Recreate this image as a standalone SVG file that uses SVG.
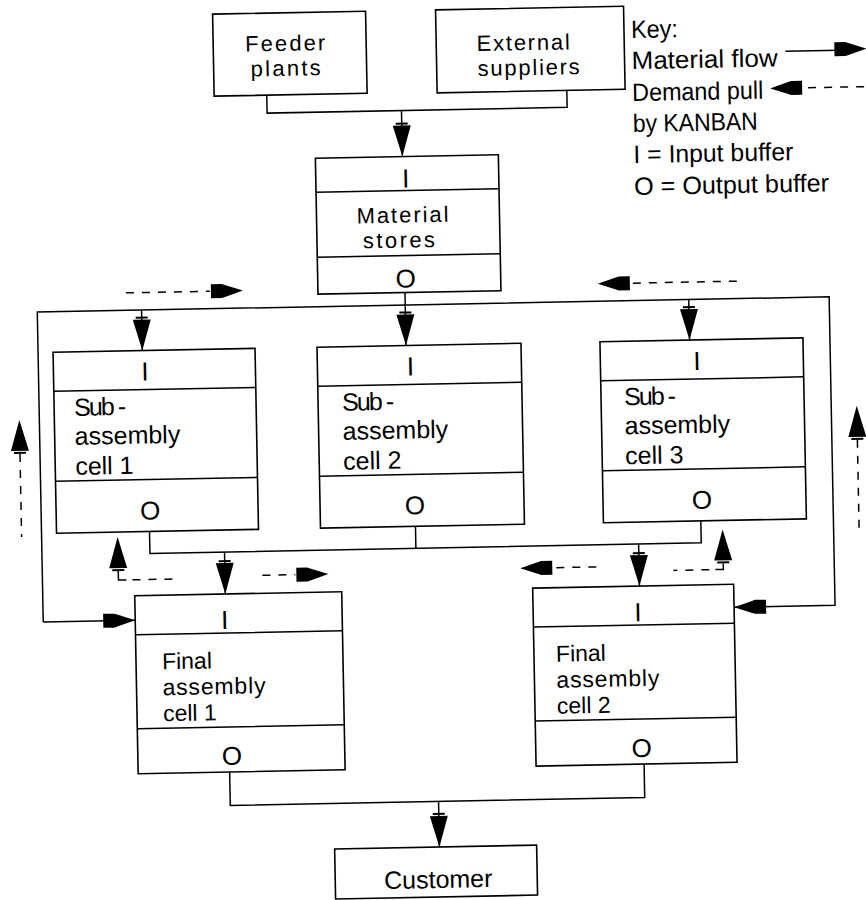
<svg xmlns="http://www.w3.org/2000/svg" width="866" height="900" viewBox="0 0 866 900">
<defs>
<style>
.b{fill:#fff;stroke:#000;stroke-width:1.6}
.dv{stroke:#000;stroke-width:1.5}
.l{fill:none;stroke:#000;stroke-width:1.5}
.k{fill:none;stroke:#000;stroke-width:1.5;stroke-dasharray:8 8}
text{font-family:"Liberation Sans",Arial,sans-serif;font-size:25px;fill:#000}
.m{text-anchor:middle}
.s{font-size:22px}
.f{font-size:23px}
.io{font-size:26px;text-anchor:middle}
</style>
<path id="ad" d="M0,0 L-9,-31 L9,-31 Z M-6,-34 H6 V-32 H-6 Z"/>
<path id="af" d="M0,0 L-18,-6 L-21,-7 L-32,-7 L-32,7 L-21,7 L-18,6 Z"/>
</defs>
<rect width="866" height="900" fill="#fff"/>
<g transform="rotate(-1.1 433 450)">
<g id="connectors">
<path class="l" d="M273.6,92 V110 H573.7 V93 M408,110 V155"/>
<use href="#ad" transform="translate(408,156)"/>
<path class="l" d="M408,292 V345 M40,614.5 V304.5 H832 V613 H731 M40,614.5 H132 M144.3,304.5 V345 M691.6,304.5 V345"/>
<use href="#ad" transform="translate(144.3,345)"/>
<use href="#ad" transform="translate(408,345)"/>
<use href="#ad" transform="translate(691.6,345)"/>
<use href="#af" transform="translate(132,614.5)"/>
<use href="#af" transform="translate(731,613) rotate(180)"/>
<path class="l" d="M148,526 V548 H699.4 V526 M414,526 V548 M222.6,548 V590 M636.8,548 V590"/>
<use href="#ad" transform="translate(222.6,590)"/>
<use href="#ad" transform="translate(636.8,590)"/>
<path class="l" d="M223.5,768 V801.5 H638 V768 M431.8,801.5 V847"/>
<use href="#ad" transform="translate(431.8,847)"/>
<path class="k" d="M129,287 H213"/>
<use href="#af" transform="translate(246,287)"/>
<use href="#af" transform="translate(601,287) rotate(180)"/>
<path class="k" d="M636,287 H745"/>
<use href="#ad" transform="translate(20,412) rotate(180)"/>
<path class="k" d="M20,446 V529"/>
<use href="#ad" transform="translate(857.5,414) rotate(180)"/>
<path class="k" d="M857.5,448 V537"/>
<use href="#ad" transform="translate(116,531) rotate(180)"/>
<path class="l" d="M116,565 V574 H124"/>
<path class="k" d="M130,574 H170"/>
<path class="k" d="M260,572 H293"/>
<use href="#af" transform="translate(326,572)"/>
<use href="#af" transform="translate(518,570) rotate(180)"/>
<path class="k" d="M554,570 H596"/>
<use href="#ad" transform="translate(721,535) rotate(180)"/>
<path class="l" d="M721,569 V575 H713"/>
<path class="k" d="M707,575 H671"/>
</g>
<g id="feeder">
<rect class="b" x="221" y="10" width="153" height="82"/>
<text class="m s" x="293" y="48" textLength="80" lengthAdjust="spacing">Feeder</text>
<text class="m s" x="293" y="73" textLength="70" lengthAdjust="spacing">plants</text>
</g>
<g id="external">
<rect class="b" x="444" y="10" width="188" height="83"/>
<text class="m s" x="531" y="52" textLength="93" lengthAdjust="spacing">External</text>
<text class="m s" x="536" y="77" textLength="102" lengthAdjust="spacing">suppliers</text>
</g>
<g id="material">
<rect class="b" x="321" y="156" width="183" height="136"/>
<path class="dv" d="M321,190 H504 M321,255 H504"/>
<text class="io" x="411" y="187">I</text>
<text class="m s" x="407" y="222" textLength="92" lengthAdjust="spacing">Material</text>
<text class="m s" x="403" y="247" textLength="72" lengthAdjust="spacing">stores</text>
<text class="io" x="409" y="287">O</text>
</g>
<g id="sub1">
<rect class="b" x="55" y="345" width="202" height="181"/>
<path class="dv" d="M55,384 H257 M55,474 H257"/>
<text class="io" x="146.5" y="375">I</text>
<text x="75" y="409" textLength="52" lengthAdjust="spacing">Sub -</text>
<text x="75" y="438">assembly</text>
<text x="75" y="468">cell 1</text>
<text class="io" x="149" y="514">O</text>
</g>
<g id="sub2">
<rect class="b" x="319" y="345" width="204" height="181"/>
<path class="dv" d="M319,384 H523 M319,474 H523"/>
<text class="io" x="412" y="375">I</text>
<text x="343" y="409" textLength="52" lengthAdjust="spacing">Sub -</text>
<text x="343" y="438">assembly</text>
<text x="343" y="468">cell 2</text>
<text class="io" x="414" y="514">O</text>
</g>
<g id="sub3">
<rect class="b" x="602" y="345" width="203" height="181"/>
<path class="dv" d="M602,384 H805 M602,474 H805"/>
<text class="io" x="698.5" y="375">I</text>
<text x="625" y="409" textLength="52" lengthAdjust="spacing">Sub -</text>
<text x="625" y="438">assembly</text>
<text x="625" y="468">cell 3</text>
<text class="io" x="701" y="514">O</text>
</g>
<g id="final1">
<rect class="b" x="132" y="590" width="207" height="178"/>
<path class="dv" d="M132,629 H339 M132,723 H339"/>
<text class="io" x="221.5" y="625">I</text>
<text class="f" x="158" y="664">Final</text>
<text class="f" x="158" y="690" textLength="103" lengthAdjust="spacing">assembly</text>
<text class="f" x="158" y="716">cell 1</text>
<text class="io" x="226" y="761">O</text>
</g>
<g id="final2">
<rect class="b" x="530" y="590" width="201" height="178"/>
<path class="dv" d="M530,629 H731 M530,723 H731"/>
<text class="io" x="634.7" y="625">I</text>
<text class="f" x="552" y="664">Final</text>
<text class="f" x="552" y="690" textLength="103" lengthAdjust="spacing">assembly</text>
<text class="f" x="552" y="716">cell 2</text>
<text class="io" x="636" y="761">O</text>
</g>
<g id="customer">
<rect class="b" x="327" y="847" width="202" height="50"/>
<text class="m" x="430" y="888">Customer</text>
</g>
<g id="key">
<text x="639" y="42" textLength="47" lengthAdjust="spacingAndGlyphs">Key:</text>
<text x="639" y="73" textLength="146" lengthAdjust="spacingAndGlyphs">Material flow</text>
<path class="l" d="M793,58 H846"/>
<use href="#af" transform="translate(874,57)"/>
<text x="639" y="105" textLength="131" lengthAdjust="spacingAndGlyphs">Demand pull</text>
<use href="#af" transform="translate(777,95) rotate(180)"/>
<path class="k" d="M815,95 H873"/>
<text x="639" y="136" textLength="125" lengthAdjust="spacingAndGlyphs">by KANBAN</text>
<text x="639" y="167" textLength="160" lengthAdjust="spacingAndGlyphs">I = Input buffer</text>
<text x="639" y="199" textLength="195" lengthAdjust="spacingAndGlyphs">O = Output buffer</text>
</g>
</g>
</svg>
